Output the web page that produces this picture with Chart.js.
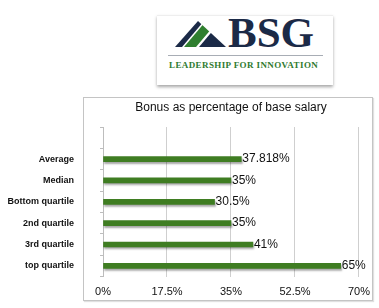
<!DOCTYPE html>
<html>
<head>
<meta charset="utf-8">
<script src="https://cdn.jsdelivr.net/npm/chart.js@4/dist/chart.umd.min.js"></script>
<style>
  html, body { margin:0; padding:0; background:#fff; }
  body { width:379px; height:308px; position:relative; overflow:hidden; font-family:"Liberation Sans", Arial, sans-serif; }
  #card { position:absolute; left:157px; top:15px; width:176px; height:69px; background:#fff;
          box-shadow:0 2px 3px rgba(0,0,0,0.35); border-top:1px solid #eee; }
  #logo { position:absolute; left:0; top:0; }
  #bsg { position:absolute; left:228px; top:11px; font-family:"Liberation Serif", "Times New Roman", serif;
         font-weight:bold; font-size:43px; line-height:43px; color:#1b2a47; letter-spacing:0px; }
  #rule { position:absolute; left:168px; top:55px; width:155px; height:1px; background:#a8adb5; }
  #tag { position:absolute; left:169px; top:60px; font-family:"Liberation Serif", "Times New Roman", serif;
         font-weight:bold; font-size:9px; line-height:10px; color:#2f7a2f; letter-spacing:0.4px; white-space:nowrap; }
  #box { position:absolute; left:83px; top:97px; width:288px; height:202px; border:1px solid #c4c4c4;
         box-shadow:1px 1px 1px rgba(0,0,0,0.12); }
  #c { position:absolute; left:0; top:0; }
</style>
</head>
<body>
<div id="card"></div>
<svg id="logo" width="379" height="90" viewBox="0 0 379 90">
  <defs>
    <clipPath id="tri"><polygon points="175,47 198,21 226,47"/></clipPath>
  </defs>
  <g clip-path="url(#tri)">
    <rect x="170" y="15" width="60" height="35" fill="#fff"/>
    <polygon points="170,47 182,47 204,21 192,21" fill="#1b2a47"/>
    <polygon points="184,47 196,47 218,21 206,21" fill="#2f7f2f"/>
    <polygon points="199,47 232,47 232,21 221,21" fill="#1b2a47"/>
  </g>
</svg>
<div id="bsg">BSG</div>
<div id="rule"></div>
<div id="tag">LEADERSHIP FOR INNOVATION</div>
<div id="box"></div>
<canvas id="c" width="379" height="308"></canvas>
<script>
const categories = ['Average', 'Median', 'Bottom quartile', '2nd quartile', '3rd quartile', 'top quartile'];
const bonusPct = [37.818, 35, 30.5, 35, 41, 65];
const xTicks = [0, 17.5, 35, 52.5, 70];
const chartTitle = 'Bonus as percentage of base salary';

const FONT = '"Liberation Sans", Arial, Helvetica, sans-serif';

const shadowPlugin = {
  id: 'barShadow',
  beforeDatasetDraw(chart) {
    const ctx = chart.ctx;
    ctx.save();
    ctx.shadowColor = 'rgba(0,0,0,0.35)';
    ctx.shadowOffsetX = 1;
    ctx.shadowOffsetY = 2;
    ctx.shadowBlur = 2;
  },
  afterDatasetDraw(chart) {
    chart.ctx.restore();
  }
};

const valueLabels = {
  id: 'valueLabels',
  afterDatasetsDraw(chart) {
    const ctx = chart.ctx;
    const meta = chart.getDatasetMeta(0);
    const data = chart.data.datasets[0].data;
    ctx.save();
    ctx.font = '12px ' + FONT;
    ctx.fillStyle = '#111';
    ctx.textAlign = 'left';
    ctx.textBaseline = 'middle';
    meta.data.forEach((bar, i) => {
      const v = data[i];
      if (v === null || v === undefined) return;
      ctx.fillText(v + '%', bar.x + 1, bar.y);
    });
    ctx.restore();
  }
};

new Chart(document.getElementById('c'), {
  type: 'bar',
  data: {
    labels: [''].concat(categories),
    datasets: [{
      data: [null].concat(bonusPct),
      backgroundColor: '#3f7d22',
      borderWidth: 0,
      barThickness: 5
    }]
  },
  options: {
    indexAxis: 'y',
    responsive: false,
    animation: false,
    devicePixelRatio: 1,
    layout: { padding: { left: 0, right: 20, top: 0, bottom: 0 } },
    plugins: {
      legend: { display: false },
      tooltip: { enabled: false },
      title: {
        display: true,
        text: chartTitle,
        fullSize: false,
        color: '#111',
        font: { family: FONT, size: 12, weight: 'normal', lineHeight: 1.2 },
        padding: { top: 100, bottom: 12.6 }
      }
    },
    scales: {
      x: {
        type: 'linear',
        min: 0,
        max: 70,
        afterBuildTicks(scale) { scale.ticks = xTicks.map(v => ({ value: v })); },
        afterFit(scale) { scale.height = 31; },
        grid: { color: '#cfcfcf', lineWidth: 1, drawTicks: false },
        border: { display: false },
        ticks: {
          padding: 9,
          color: '#111',
          font: { family: FONT, size: 11 },
          callback: v => v + '%'
        }
      },
      y: {
        type: 'category',
        offset: true,
        afterFit(scale) { scale.width = 103; },
        grid: { offset: true, drawOnChartArea: false, drawTicks: true, tickLength: 3, color: '#bdbdbd' },
        border: { display: true, color: '#bdbdbd' },
        ticks: {
          padding: 26,
          color: '#111',
          font: { family: FONT, size: 9, weight: 'bold' }
        }
      }
    }
  },
  plugins: [shadowPlugin, valueLabels]
});
</script>
</body>
</html>
